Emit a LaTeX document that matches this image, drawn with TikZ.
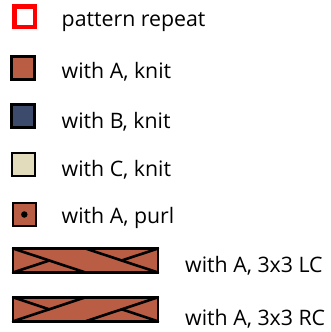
\documentclass[tikz,border=0pt]{standalone}
\usepackage{fontspec}
\setmainfont{Open Sans}
\usetikzlibrary{calc}
\definecolor{yarnA}{HTML}{B95E44}
\definecolor{yarnB}{HTML}{3C4A6C}
\definecolor{yarnC}{HTML}{E2DCBD}

\tikzset{
  swatch/.style={draw=black, line width=2.5pt, minimum size=23pt, inner sep=0pt, outer sep=0pt},
  cablebox/.style={draw=black, line width=2.5pt, fill=yarnA, minimum width=145pt, minimum height=24pt, inner sep=0pt, outer sep=0pt},
  cableline/.style={line width=2.6pt, line cap=round},
  legendtext/.style={anchor=base west, inner sep=0pt, font=\fontsize{21.3}{24}\selectfont},
}

\begin{document}
\begin{tikzpicture}[x=1pt, y=-1pt]
  \useasboundingbox (0,0) rectangle (331,332);
  % swatches
  \node[swatch, draw=red, line width=4.5pt, minimum size=20.5pt] (rep) at (24.6,16.7) {};
  \node[swatch, fill=yarnA] (knitA) at (23.2,68) {};
  \node[swatch, fill=yarnB] (knitB) at (23.2,116) {};
  \node[swatch, fill=yarnC] (knitC) at (23.4,164.3) {};
  \node[swatch, fill=yarnA] (purlA) at (24.3,214.5) {};
  \node[circle, fill=black, inner sep=0pt, minimum size=6.5pt] (purldot) at (purlA) {};
  % cables
  \node[cablebox] (lc) at (85.5,260.5) {};
  \draw[cableline] (lc.north west) -- (lc.south);
  \draw[cableline] (lc.north) -- (lc.south east);
  \draw[cableline] (lc.south west) -- ($(lc.north west)!0.5!(lc.south)$);
  \draw[cableline] (lc.north east) -- ($(lc.north)!0.5!(lc.south east)$);
  \node[cablebox] (rc) at (85.5,309.3) {};
  \draw[cableline] (rc.south west) -- (rc.north);
  \draw[cableline] (rc.south) -- (rc.north east);
  \draw[cableline] (rc.north west) -- ($(rc.south west)!0.5!(rc.north)$);
  \draw[cableline] (rc.south east) -- ($(rc.south)!0.5!(rc.north east)$);
  % labels
  \node[legendtext] (repl) at (61.5,26.7) {pattern repeat};
  \node[legendtext] (knitAl) at (61.5,78.3) {with A, knit};
  \node[legendtext] (knitBl) at (61.5,128.3) {with B, knit};
  \node[legendtext] (knitCl) at (61.5,176) {with C, knit};
  \node[legendtext] (purlAl) at (61.5,223.3) {with A, purl};
  \node[legendtext] (lcl) at (185,272.7) {with A, 3x3 LC};
  \node[legendtext] (rcl) at (185,325) {with A, 3x3 RC};
\end{tikzpicture}
\end{document}
